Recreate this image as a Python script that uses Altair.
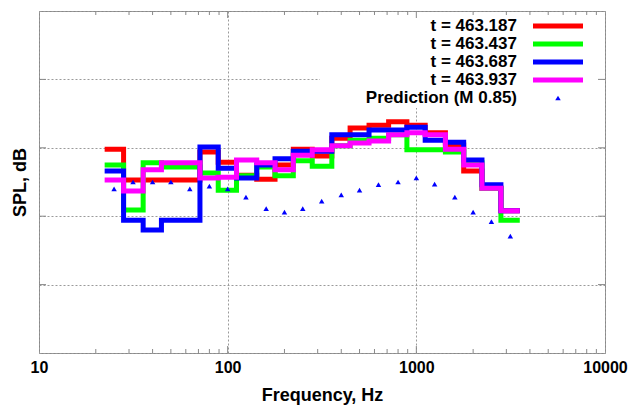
import altair as alt
import pandas as pd

# 1/3-octave band centre frequencies (Hz)
freq_centers = [25, 31.5, 40, 50, 63, 80, 100, 125, 160, 200, 250, 315,
                400, 500, 630, 800, 1000, 1250, 1600, 2000, 2500, 3150]

# SPL (dB) per band, one list per time instant
spl_t463187 = [69.8, 65.3, 65.3, 65.3, 65.3, 69.4, 67.9, 66.0, 65.4, 67.5, 69.8,
               68.8, 71.4, 72.9, 73.3, 73.8, 73.3, 72.2, 70.4, 66.6, 64.1, 60.8]
spl_t463437 = [67.5, 60.9, 67.8, 67.2, 67.2, 66.3, 63.8, 65.9, 67.2, 65.9, 68.1,
               67.3, 70.3, 71.1, 71.4, 71.9, 69.7, 69.7, 69.4, 67.8, 64.1, 59.4]
spl_t463687 = [66.6, 59.4, 58.0, 59.4, 59.4, 70.1, 67.0, 65.6, 67.5, 68.4, 69.5,
               69.5, 71.9, 71.9, 72.6, 72.6, 73.0, 71.1, 70.8, 68.2, 64.6, 60.8]
spl_t463937 = [65.3, 63.7, 66.8, 67.8, 67.8, 65.6, 65.7, 68.2, 67.8, 66.8, 68.9,
               69.7, 70.3, 70.7, 71.0, 71.9, 72.2, 71.9, 69.8, 67.5, 64.1, 60.8]
spl_prediction = [64.0, 65.0, 65.0, 65.0, 64.0, 64.4, 64.0, 62.8, 61.1, 60.6, 61.1,
                  62.2, 63.1, 63.8, 64.6, 65.0, 65.6, 64.7, 62.8, 60.6, 59.2, 57.1]

series_labels = ["t = 463.187", "t = 463.437", "t = 463.687", "t = 463.937"]
series_values = [spl_t463187, spl_t463437, spl_t463687, spl_t463937]
series_colors = ["#ff0000", "#00ff00", "#0000ff", "#ff00ff"]
pred_label = "Prediction (M 0.85)"

x_major = [10, 100, 1000, 10000]
x_minor = [m * d for d in (10, 100, 1000) for m in range(2, 10)]
y_major = [40, 50, 60, 70, 80, 90]
y_inner = [50, 60, 70, 80]

FONT = "Liberation Sans"
W, H = 566, 342

half_band = 10 ** 0.05
edges = [f / half_band for f in freq_centers] + [freq_centers[-1] * half_band]

x_scale = alt.Scale(type="log", domain=[10, 10000], nice=False)
y_scale = alt.Scale(domain=[40, 90], nice=False, zero=False)

x_axis = alt.Axis(values=x_major, format="d", labelFlush=False, ticks=False, tickSize=0,
                  domain=False, grid=True, gridDash=[2, 2], gridColor="#9a9a9a",
                  labelFont=FONT, labelFontWeight="bold", labelFontSize=16,
                  labelColor="black", labelPadding=6,
                  title="Frequency, Hz", titleFont=FONT, titleFontWeight="bold",
                  titleFontSize=18, titleColor="black", titlePadding=11)
y_axis = alt.Axis(values=y_major, labels=False, ticks=False, tickSize=0, domain=False,
                  grid=True, gridDash=[2, 2], gridColor="#9a9a9a",
                  title="SPL, dB", titleFont=FONT, titleFontWeight="bold",
                  titleFontSize=18, titleColor="black", titlePadding=10)


def X(field):
    return alt.X(field, type="quantitative", scale=x_scale, axis=x_axis)


def Y(field):
    return alt.Y(field, type="quantitative", scale=y_scale, axis=y_axis)


layers = []
for lab, vals, col in zip(series_labels, series_values, series_colors):
    df = pd.DataFrame({"f": edges, "spl": list(vals) + [vals[-1]], "series": lab})
    layers.append(
        alt.Chart(df).mark_line(interpolate="step-after", strokeWidth=5, color=col,
                                strokeJoin="miter")
        .encode(x=X("f"), y=Y("spl"))
    )

pred_df = pd.DataFrame({"f": freq_centers, "spl": spl_prediction})
layers.append(
    alt.Chart(pred_df).mark_point(shape="triangle-up", filled=True, size=30,
                                  color="#0000ff", opacity=1)
    .encode(x=X("f"), y=Y("spl"))
)

one = pd.DataFrame({"k": [0]})
# legend background (covers grid)
layers.append(
    alt.Chart(one).mark_rect(color="white")
    .encode(x=alt.value(281), x2=alt.value(W - 2), y=alt.value(1), y2=alt.value(97))
)
# legend entries
for i, (lab, col) in enumerate(zip(series_labels, series_colors)):
    yy = 15 + 18 * i
    layers.append(
        alt.Chart(one).mark_text(align="right", baseline="middle", font=FONT,
                                 fontSize=17, fontWeight="bold", color="black")
        .encode(x=alt.value(478), y=alt.value(yy), text=alt.value(lab))
    )
    layers.append(
        alt.Chart(one).mark_rule(strokeWidth=5, color=col)
        .encode(x=alt.value(494), x2=alt.value(544), y=alt.value(yy))
    )
yy = 15 + 18 * 4
layers.append(
    alt.Chart(one).mark_text(align="right", baseline="middle", font=FONT,
                             fontSize=17, fontWeight="bold", color="black")
    .encode(x=alt.value(478), y=alt.value(yy), text=alt.value(pred_label))
)
layers.append(
    alt.Chart(one).mark_point(shape="triangle-up", filled=True, size=30,
                              color="#0000ff", opacity=1)
    .encode(x=alt.value(519), y=alt.value(yy))
)

# inward tick marks (gnuplot style)
minor_df = pd.DataFrame({"f": x_minor})
major_df = pd.DataFrame({"f": [100, 1000]})
yt_df = pd.DataFrame({"v": y_inner})
tick_col = "#888888"
layers += [
    alt.Chart(minor_df).mark_rule(color=tick_col).encode(x=X("f"), y=alt.value(H), y2=alt.value(H - 4)),
    alt.Chart(minor_df).mark_rule(color=tick_col).encode(x=X("f"), y=alt.value(0), y2=alt.value(4)),
    alt.Chart(major_df).mark_rule(color=tick_col).encode(x=X("f"), y=alt.value(H), y2=alt.value(H - 7)),
    alt.Chart(major_df).mark_rule(color=tick_col).encode(x=X("f"), y=alt.value(0), y2=alt.value(7)),
    alt.Chart(yt_df).mark_rule(color=tick_col).encode(y=Y("v"), x=alt.value(0), x2=alt.value(7)),
    alt.Chart(yt_df).mark_rule(color=tick_col).encode(y=Y("v"), x=alt.value(W), x2=alt.value(W - 7)),
]

chart = (
    alt.layer(*layers)
    .properties(width=W, height=H,
                padding={"left": 39, "top": 11, "right": 29, "bottom": 57},
                autosize=alt.AutoSizeParams(type="none"),
                background="white")
    .configure_view(stroke="#888888", strokeWidth=1)
)

chart.save("out.html", embed_options={"renderer": "svg", "actions": False})
